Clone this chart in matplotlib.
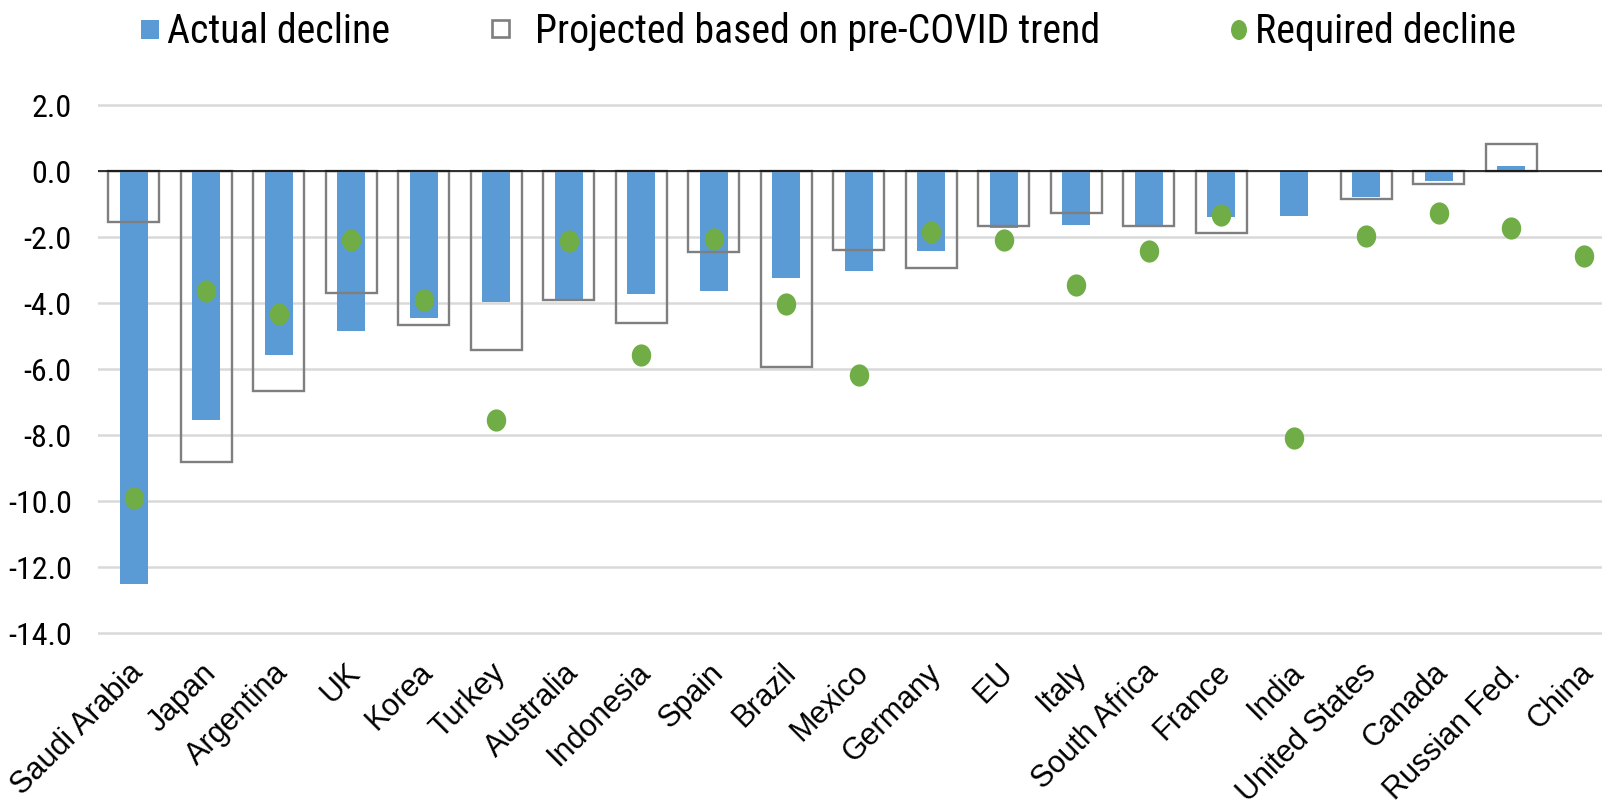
import numpy as np
import matplotlib
matplotlib.use("Agg")
import matplotlib.pyplot as plt
import matplotlib.transforms as mtransforms
from matplotlib.path import Path
from matplotlib.patches import Rectangle, Ellipse
from matplotlib import font_manager

# ---- data -------------------------------------------------------------
countries = ["Saudi Arabia", "Japan", "Argentina", "UK", "Korea", "Turkey",
             "Australia", "Indonesia", "Spain", "Brazil", "Mexico", "Germany",
             "EU", "Italy", "South Africa", "France", "India", "United States",
             "Canada", "Russian Fed.", "China"]
actual_decline = [-12.50, -7.53, -5.57, -4.83, -4.44, -3.96, -3.86, -3.73,
                  -3.62, -3.22, -3.03, -2.42, -1.71, -1.62, -1.62, -1.39,
                  -1.34, -0.79, -0.29, 0.16, np.nan]
projected_trend = [-1.55, -8.81, -6.67, -3.69, -4.65, -5.43, -3.90, -4.61,
                   -2.45, -5.94, -2.39, -2.93, -1.66, -1.26, -1.67, -1.87,
                   np.nan, -0.84, -0.39, 0.83, np.nan]
required_decline = [-9.90, -3.64, -4.31, -2.08, -3.91, -7.54, -2.12, -5.57,
                    -2.06, -4.03, -6.17, -1.85, -2.08, -3.45, -2.43, -1.33,
                    -8.09, -1.96, -1.26, -1.71, -2.56]
y_ticks = [2.0, 0.0, -2.0, -4.0, -6.0, -8.0, -10.0, -12.0, -14.0]
legend_labels = ["Actual decline", "Projected based on pre-COVID trend",
                 "Required decline"]

# ---- styling ------------------------------------------------------------
BLUE = "#5B9BD5"
GREEN = "#70AD47"
BOX_GREY = "#7F7F7F"
GRID_GREY = "#D9D9D9"

installed = {f.name for f in font_manager.fontManager.ttflist}


def pick(*names):
    found = [n for n in names if n in installed]
    return found + ["DejaVu Sans"]


NARROW = pick("Liberation Sans Narrow", "Arial Narrow", "Roboto Condensed",
              "Archivo Narrow", "Liberation Sans")
REGULAR = pick("Liberation Sans", "Arimo")

W, H = 1602, 805
DPI = 100
fig = plt.figure(figsize=(W / DPI, H / DPI), dpi=DPI)


def fx(px):
    return px / W


def fy(py):
    return 1 - py / H


# axes box in pixels: 21 categories of 72.5 px each, zero at y=171.3, 33 px per unit
ymin, ymax = -14.05, 2.05
zero_px, unit_px = 171.3, 33.0
left_px = 97.5
right_px = left_px + 21 * 72.5
top_px = zero_px - ymax * unit_px
bot_px = zero_px - ymin * unit_px
ax = fig.add_axes([fx(left_px), fy(bot_px), fx(right_px - left_px),
                   (bot_px - top_px) / H])

x = np.arange(len(countries))

ax.bar(x, actual_decline, width=0.39, color=BLUE, zorder=2)
ax.bar(x, projected_trend, width=0.70, facecolor="none",
       edgecolor=BOX_GREY, linewidth=1.7, zorder=3)
ax.axhline(0, color="black", linewidth=1.1, zorder=4)

circle = Path.unit_circle()
ellipse_marker = Path(circle.vertices * np.array([19.5 / 22.3, 1.0]), circle.codes)
ax.plot(x, required_decline, linestyle="none", marker=ellipse_marker,
        markersize=16.0, markerfacecolor=GREEN, markeredgecolor=GREEN,
        markeredgewidth=0, zorder=5)

ax.set_xlim(-0.5, len(countries) - 0.5)
ax.set_ylim(ymin, ymax)
ax.set_yticks(y_ticks)
ax.set_yticklabels([f"{v:.1f}" for v in y_ticks], fontfamily=NARROW, fontsize=23)
ax.set_xticks(x)
ax.set_xticklabels(countries, fontfamily=REGULAR, fontsize=22,
                   rotation=45, ha="right", va="center", rotation_mode="anchor")
ax.tick_params(axis="y", length=0, pad=18.5)
ax.tick_params(axis="x", length=0, pad=24)
shift = mtransforms.ScaledTranslation(5 / DPI, 0, fig.dpi_scale_trans)
for lab in ax.get_xticklabels():
    lab.set_transform(lab.get_transform() + shift)
ax.yaxis.grid(True, color=GRID_GREY, linewidth=1.8, zorder=0)
ax.set_axisbelow(True)
for s in ax.spines.values():
    s.set_visible(False)

# ---- legend across the top ---------------------------------------------
base_y = fy(42.7)
fig.add_artist(Rectangle((fx(141), fy(39.3)), fx(18), 19 / H,
                         facecolor=BLUE, edgecolor="none",
                         transform=fig.transFigure))
fig.add_artist(Rectangle((fx(492), fy(37.5)), fx(17), 17 / H,
                         facecolor="white", edgecolor=BOX_GREY, linewidth=1.9,
                         transform=fig.transFigure))
fig.add_artist(Ellipse((fx(1239), fy(30)), fx(16), 20 / H,
                       facecolor=GREEN, edgecolor="none",
                       transform=fig.transFigure))
legend_x = [166.7, 535, 1255]
legend_texts = [fig.text(fx(px), base_y, lab, fontfamily=NARROW, fontsize=30,
                         va="baseline", ha="left")
                for px, lab in zip(legend_x, legend_labels)]

# size the legend font so the middle entry spans about 565 px
renderer = fig.canvas.get_renderer()
w = legend_texts[1].get_window_extent(renderer).width
size = 30 * 565 / w
for t in legend_texts:
    t.set_fontsize(size)

fig.savefig("out.png", dpi=DPI)
